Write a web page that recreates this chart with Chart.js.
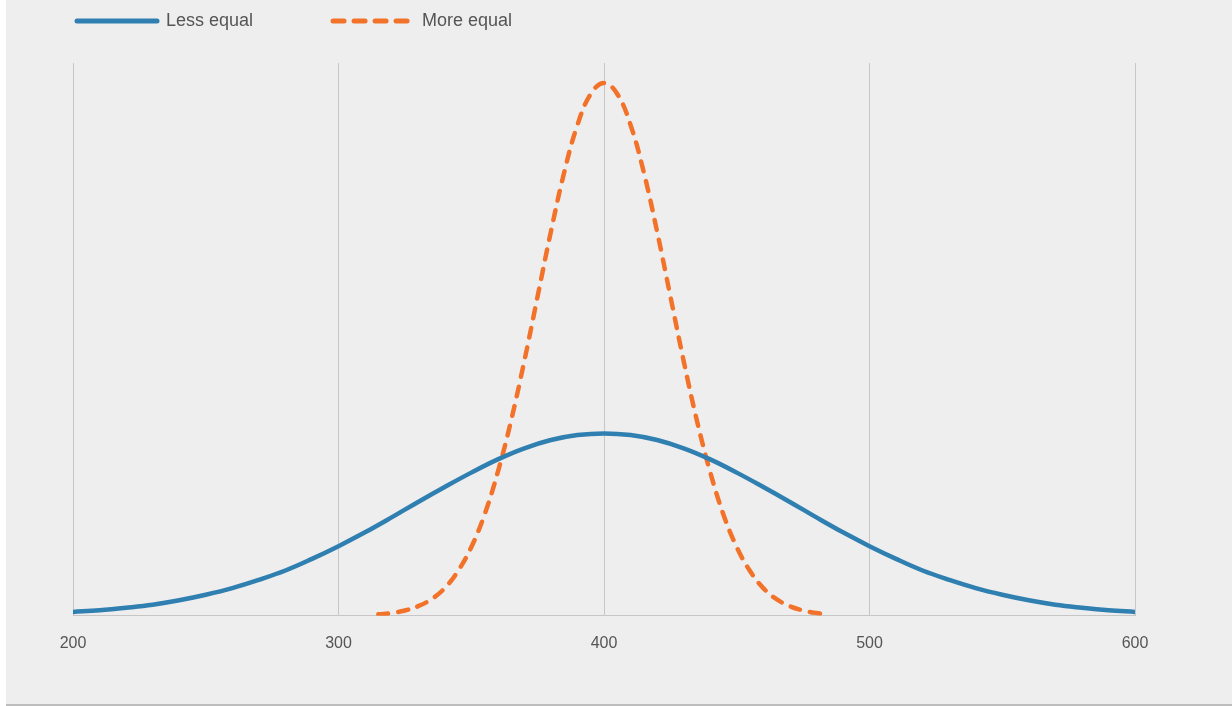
<!DOCTYPE html>
<html>
<head>
<meta charset="utf-8">
<script src="https://cdn.jsdelivr.net/npm/chart.js@4.4.1/dist/chart.umd.min.js"></script>
<style>
  html, body { margin: 0; padding: 0; background: #ffffff; }
  #box { position: absolute; left: 6px; top: 0; width: 1226px; height: 704px; background: #eeeeee; border-bottom: 2px solid #bdbdbd; }
  #wrap { position: absolute; left: 0; top: 0; width: 1232px; height: 706px; }
</style>
</head>
<body>
<div id="box"></div>
<div id="wrap"><canvas id="c" width="1232" height="706"></canvas></div>
<script>
// Series labels
const seriesNames = ["Less equal", "More equal"];
// X tick labels
const xTicks = [200, 300, 400, 500, 600];

// "Less equal" curve (wide), y in % of plot height
const lessX = [200,210,220,230,240,250,260,270,280,290,300,310,320,330,340,350,360,370,380,390,
               400,410,420,430,440,450,460,470,480,490,500,510,520,530,540,550,560,570,580,590,600];
const lessY = [0.7,1.0,1.45,2.0,2.8,3.8,5.0,6.5,8.2,10.3,12.6,15.1,17.8,20.6,23.3,25.9,28.3,30.3,31.8,32.7,
               33.0,32.7,31.8,30.3,28.3,25.9,23.3,20.6,17.8,15.1,12.6,10.3,8.2,6.5,5.0,3.8,2.8,2.0,1.45,1.0,0.7];

// "More equal" curve (narrow)
const moreX = [315,320,325,330,335,340,345,350,355,360,365,370,375,380,385,390,395,
               400,405,410,415,420,425,430,435,440,445,450,455,460,465,470,475,480,485];
const moreY = [0.26,0.51,0.96,1.74,3.0,5.0,8.1,12.4,18.3,26.0,35.3,46.1,57.8,69.5,80.2,88.8,94.4,
               96.4,94.4,88.8,80.2,69.5,57.8,46.1,35.3,26.0,18.3,12.4,8.1,5.0,3.0,1.74,0.96,0.51,0.26];

const FONT = '"Liberation Sans", Arial, Helvetica, sans-serif';
const BLUE = '#2f7fb1';
const ORANGE = '#f2722a';
const GRID = '#c6c6c6';
const TEXT = '#555555';

const LEG_PAD = 80;
const LEG_X = 77;
const LEG_Y = 12;

const legendShift = {
  id: 'legendShift',
  afterLayout(chart) {
    const lg = chart.legend;
    if (!lg) return;
    lg.left = LEG_X - LEG_PAD;
    lg.right = lg.left + 1232;
    lg.top = LEG_Y - LEG_PAD;
    lg.bottom = 63;
  }
};

const toPts = (xs, ys) => xs.map((x, i) => ({ x: x, y: ys[i] }));

new Chart(document.getElementById('c'), {
  type: 'line',
  data: {
    datasets: [
      {
        label: seriesNames[0],
        data: toPts(lessX, lessY),
        borderColor: BLUE,
        backgroundColor: BLUE,
        borderWidth: 4.5,
        borderCapStyle: 'round',
        borderJoinStyle: 'round',
        pointRadius: 0,
        tension: 0.4,
        fill: false
      },
      {
        label: seriesNames[1],
        data: toPts(moreX, moreY),
        borderColor: ORANGE,
        backgroundColor: ORANGE,
        borderWidth: 4.5,
        borderDash: [10, 10],
        borderCapStyle: 'round',
        borderJoinStyle: 'round',
        pointRadius: 0,
        tension: 0.4,
        fill: false
      }
    ]
  },
  options: {
    responsive: false,
    animation: false,
    devicePixelRatio: 1,
    layout: { padding: { left: 73, right: 97, top: 0, bottom: 35 } },
    plugins: {
      tooltip: { enabled: false },
      legend: {
        display: true,
        position: 'top',
        align: 'start',
        maxHeight: 63,
        labels: {
          usePointStyle: true,
          pointStyle: 'line',
          pointStyleWidth: 80,
          boxHeight: 18,
          padding: LEG_PAD,
          color: TEXT,
          font: { family: FONT, size: 18 },
          generateLabels(chart) {
            const items = Chart.defaults.plugins.legend.labels.generateLabels(chart);
            items.forEach((it, i) => {
              const ds = chart.data.datasets[it.datasetIndex != null ? it.datasetIndex : i];
              it.strokeStyle = ds.borderColor;
              it.fillStyle = ds.borderColor;
              it.lineWidth = 5;
              it.lineCap = 'round';
              it.lineDash = ds.borderDash ? [11, 10] : [];
              it.lineDashOffset = 0;
            });
            return items;
          }
        }
      }
    },
    scales: {
      x: {
        type: 'linear',
        min: 200,
        max: 600,
        afterBuildTicks(scale) { scale.ticks = xTicks.map(v => ({ value: v })); },
        ticks: {
          color: TEXT,
          font: { family: FONT, size: 16 },
          padding: 18,
          maxRotation: 0
        },
        grid: { color: GRID, lineWidth: 1, drawTicks: false },
        border: { display: true, color: GRID, width: 1 }
      },
      y: {
        display: false,
        min: 0,
        max: 100
      }
    }
  },
  plugins: [legendShift]
});
</script>
</body>
</html>
